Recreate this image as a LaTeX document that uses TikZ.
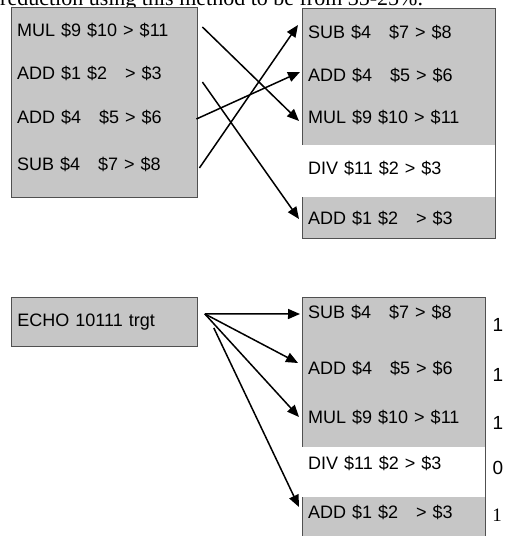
\documentclass[tikz,border=0pt]{standalone}
\usepackage{fontspec}
\setmainfont{Liberation Sans}
\newfontfamily\serifface{Liberation Serif}
\usetikzlibrary{arrows.meta}
\definecolor{boxgray}{RGB}{198,198,198}
\definecolor{boxline}{RGB}{80,80,80}

\begin{document}
\begin{tikzpicture}[x=1pt, y=-1pt,
  box/.style={draw=boxline, fill=boxgray, line width=0.8pt, inner sep=0pt, anchor=north west},
  lrow/.style={anchor=west, inner xsep=6pt, inner ysep=0pt, text width=174pt, align=left, font=\fontsize{18}{20}\selectfont},
  rrow/.style={anchor=west, inner xsep=6pt, inner ysep=0pt, text width=170pt, align=left, font=\fontsize{18}{20}\selectfont},
  flow/.style={-{Triangle[length=12pt,width=10pt]}, line width=1.5pt}]
\useasboundingbox (0,0) rectangle (506,536);
% Caption line cut by the page top
\node[anchor=base west, inner sep=0pt, font=\serifface\fontsize{22}{24}\selectfont] (caption) at (0,5) {reduction using this method to be from 35-25\%.};
% Original order
\node[box, minimum width=186pt, minimum height=190pt] (lbox) at (11,7) {};
\node[lrow] (lmul) at (11,30) {MUL \$9 \$10 > \$11};
\node[lrow] (ladd) at (11,73) {ADD \$1 \$2~~~> \$3};
\node[lrow] (lfour) at (11,117) {ADD \$4~~~\$5 > \$6};
\node[lrow] (lsub) at (11,164) {SUB \$4~~~\$7 > \$8};
% Scheduled order
\node[box, minimum width=193pt, minimum height=230pt] (rbox) at (302,8) {};
\fill[white] (302.4,145) rectangle (494.6,197);
\node[rrow] (rsub) at (302,32) {SUB \$4~~~\$7 > \$8};
\node[rrow] (rfour) at (302,75) {ADD \$4~~~\$5 > \$6};
\node[rrow] (rmul) at (302,117) {MUL \$9 \$10 > \$11};
\node[rrow] (rdiv) at (302,168) {DIV \$11 \$2 > \$3};
\node[rrow] (radd) at (302,218) {ADD \$1 \$2~~~> \$3};
\draw[flow] ([shift={(5,-3)}]lmul.east) -- ([shift={(-3,4)}]rmul.west);
\draw[flow] ([shift={(5,9)}]ladd.east) -- ([shift={(-3,1)}]radd.west);
\draw[flow] ([shift={(-1,2)}]lfour.east) -- ([shift={(-2,-3)}]rfour.west);
\draw[flow] ([shift={(2,4)}]lsub.east) -- ([shift={(-4,-7)}]rsub.west);
% Echo packet
\node[box, minimum width=186pt, minimum height=49pt, text width=174pt, inner xsep=6pt, align=left, font=\fontsize{18}{20}\selectfont] (echo) at (11,297) {ECHO 10111 trgt};
\coordinate (fan) at ([shift={(7,-8)}]echo.east);
\coordinate (fanlow) at ([shift={(16,6)}]echo.east);
% Scheduled order with mask bits
\node[box, minimum width=183pt, minimum height=240pt] (bbox) at (302,297) {};
\fill[white] (302.4,447) rectangle (484.6,497);
\node[rrow] (bsub) at (302,312) {SUB \$4~~~\$7 > \$8};
\node[rrow] (bfour) at (302,368) {ADD \$4~~~\$5 > \$6};
\node[rrow] (bmul) at (302,417) {MUL \$9 \$10 > \$11};
\node[rrow] (bdiv) at (302,463) {DIV \$11 \$2 > \$3};
\node[rrow] (badd) at (302,512) {ADD \$1 \$2~~~> \$3};
\draw[flow] (fan) -- ([shift={(-2,2)}]bsub.west);
\draw[flow] (fan) -- ([shift={(-4,-5)}]bfour.west);
\draw[flow] (fan) -- ([shift={(-3,0)}]bmul.west);
\draw[flow] (fanlow) -- ([shift={(-3,-5)}]badd.west);
% Mask bits
\node[font=\fontsize{19}{20}\selectfont] (m1) at (498,325) {1};
\node[font=\fontsize{19}{20}\selectfont] (m2) at (498,375) {1};
\node[font=\fontsize{19}{20}\selectfont] (m3) at (498,423) {1};
\node[font=\fontsize{19}{20}\selectfont] (m4) at (498,468) {0};
\node[font=\serifface\fontsize{19}{20}\selectfont] (m5) at (497,515) {1};
\end{tikzpicture}
\end{document}
